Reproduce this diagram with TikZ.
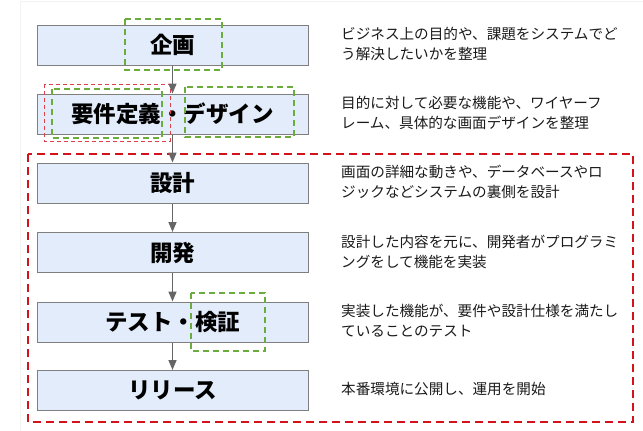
\documentclass[tikz,border=0pt]{standalone}
\usepackage{fontspec}
\usetikzlibrary{arrows.meta}
\newfontfamily\jp{Noto Sans CJK JP}
\definecolor{boxfill}{HTML}{E2ECFB}
\definecolor{boxedge}{HTML}{7F7F7F}
\definecolor{flowgray}{HTML}{666666}
\definecolor{markgreen}{HTML}{6AAD3D}
\definecolor{markred}{HTML}{D3131B}
\definecolor{notetext}{HTML}{1A1A1A}
\tikzset{
  phase/.style={draw=boxedge,fill=boxfill,line width=1pt,minimum width=271pt,
    minimum height=40pt,inner sep=0pt,font=\jp\bfseries\fontsize{22.5}{26}\selectfont},
  note/.style={anchor=west,align=left,inner sep=0pt,text=notetext,
    font=\jp\fontsize{14.6}{20}\selectfont},
  flow/.style={draw=flowgray,line width=1.5pt,-{Triangle[length=10pt,width=8pt]}},
  greenmark/.style={draw=markgreen,line width=1.5pt,dash pattern=on 6pt off 4pt},
  redmark/.style={draw=markred,line width=1.8pt,dash pattern=on 8pt off 5pt},
  redthin/.style={draw=markred!80,line width=1pt,dash pattern=on 4pt off 3pt}
}
\begin{document}
\begin{tikzpicture}[x=1pt,y=-1pt]
\useasboundingbox (0,0) rectangle (643,431);
\draw[black!5] (20.5,1.5) rectangle (660,450); % page edge
\foreach \n/\y/\t in {plan/45/企画, req/114/要件定義・デザイン, design/183/設計,
  dev/252.5/開発, test/322/テスト・検証, release/390.5/リリース} % edit here for the phases
\node[phase] (\n) at (172.5,\y) {\t};
\foreach \n/\y/\t in {plan/44/{ビジネス上の目的や、課題をシステムでど\\う解決したいかを整理},
  req/113/{目的に対して必要な機能や、ワイヤーフ\\レーム、具体的な画面デザインを整理},
  design/182/{画面の詳細な動きや、データベースやロ\\ジックなどシステムの裏側を設計},
  dev/251.5/{設計した内容を元に、開発者がプログラミ\\ングをして機能を実装},
  test/321/{実装した機能が、要件や設計仕様を満たし\\ていることのテスト},
  release/389/{本番環境に公開し、運用を開始}} % edit here for the notes
\node[note] (\n note) at (341,\y) {\t};
% marks
\draw[greenmark] (125,19) rectangle (222,70);
\draw[redthin] (44,84) rectangle (170,141);
\draw[greenmark] (52,89) rectangle (162,138);
\draw[greenmark] (185,87) rectangle (294,137);
\draw[greenmark] (191,293) rectangle (265,351);
\draw[redmark] (28,154) rectangle (633,422);
\foreach \a/\b in {plan/req, req/design, design/dev, dev/test, test/release} % edit here for the arrows
\draw[flow] (\a) -- (\b);
\end{tikzpicture}
\end{document}
